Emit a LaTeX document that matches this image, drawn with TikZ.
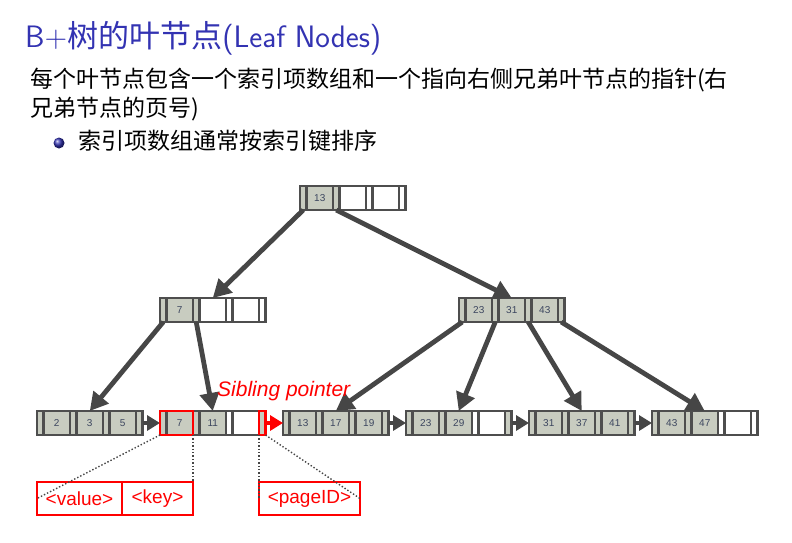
\documentclass[tikz,border=0pt]{standalone}
\usepackage{fontspec}
\usepackage{xcolor}
\usepackage{tikz}
\usetikzlibrary{arrows.meta,positioning}
\newfontfamily\cjk{Noto Sans CJK SC}
\newfontfamily\diagfont{Liberation Sans}
\definecolor{titleblue}{RGB}{51,51,178}
\definecolor{cellgrey}{RGB}{200,204,192}
\definecolor{cellline}{RGB}{78,78,78}
\definecolor{ptrgrey}{RGB}{70,70,70}
\definecolor{numblue}{RGB}{60,70,95}
\definecolor{markred}{RGB}{255,0,0}
\tikzset{
  cell/.style={draw=cellline,line width=2.4pt,outer sep=0pt,inner sep=0pt,
    minimum height=24pt,text=numblue,font=\diagfont\fontsize{10}{10}\selectfont},
  pf/.style={cell,minimum width=6.5pt,fill=cellgrey},
  pe/.style={cell,minimum width=6.5pt,fill=white},
  kf/.style={cell,minimum width=26.5pt,fill=cellgrey},
  ke/.style={cell,minimum width=26.5pt,fill=white},
  treeptr/.style={-{Triangle[length=18pt,width=19pt]},line width=4.8pt,draw=ptrgrey},
  sibptr/.style={-{Triangle[length=13pt,width=15pt]},line width=4.8pt,draw=ptrgrey},
  redframe/.style={draw=markred,line width=2.2pt},
  dotline/.style={dotted,line width=1.4pt,draw=ptrgrey},
  tagbox/.style={draw=markred,line width=2pt,text=markred,inner sep=0pt,outer sep=0pt,
    minimum height=33pt,font=\diagfont\fontsize{19}{19}\selectfont},
  titletext/.style={text=titleblue,inner sep=0pt,font=\sffamily\fontsize{31}{31}\selectfont},
  bodytext/.style={inner sep=0pt,font=\cjk\fontsize{23}{23}\selectfont},
  siblabel/.style={text=markred,inner sep=0pt,font=\diagfont\itshape\fontsize{21}{21}\selectfont}
}
% one tree page: pointer / key cells side by side
\newcommand{\bpnode}[3]{%
  \coordinate (#1-0) at (#2);
  \foreach \cellstyle/\celltext [count=\i, remember=\i as \j (initially 0)] in {#3}
    \node[\cellstyle,right=0pt of #1-\j] (#1-\i) {\celltext};
}

\begin{document}
\begin{tikzpicture}[x=1pt,y=-1pt]
  \useasboundingbox (0,0) rectangle (792,543);
  \node[titletext,anchor=base west] (title) at (25,48) {B+{\cjk 树的叶节点}(Leaf Nodes)};
  \node[bodytext,anchor=base west] (line1) at (30,87) {每个叶节点包含一个索引项数组和一个指向右侧兄弟叶节点的指针(右};
  \node[bodytext,anchor=base west] (line2) at (30,116) {兄弟节点的页号)};
  \node[circle,shading=ball,ball color=titleblue,minimum size=11pt,inner sep=0pt] (bullet) at (59,143) {};
  \node[bodytext,anchor=base west] (item) at (78,149) {索引项数组通常按索引键排序};

  % tree pages
  \bpnode{root}{300,198}{pf/,kf/13,pf/,ke/,pe/,ke/,pe/}
  \bpnode{midl}{160,310}{pf/,kf/7,pf/,ke/,pe/,ke/,pe/}
  \bpnode{midr}{459,310}{pf/,kf/23,pf/,kf/31,pf/,kf/43,pf/}
  \bpnode{leafa}{37,423}{pf/,kf/2,pf/,kf/3,pf/,kf/5,pf/}
  \bpnode{leafb}{160,423}{pf/,kf/7,pf/,kf/11,pe/,ke/,pf/}
  \bpnode{leafc}{283,423}{pf/,kf/13,pf/,kf/17,pf/,kf/19,pf/}
  \bpnode{leafd}{406,423}{pf/,kf/23,pf/,kf/29,pe/,ke/,pf/}
  \bpnode{leafe}{529,423}{pf/,kf/31,pf/,kf/37,pf/,kf/41,pf/}
  \bpnode{leaff}{652,423}{pf/,kf/43,pf/,kf/47,pe/,ke/,pe/}

  \draw[treeptr] (root-1.south) -- (midl-4.north);
  \draw[treeptr] (root-3.south) -- (midr-4.north);
  \draw[treeptr] (midl-1.south) -- (leafa-4.north);
  \draw[treeptr] (midl-3.south) -- (leafb-4.north);
  \draw[treeptr] (midr-1.south) -- (leafc-4.north);
  \draw[treeptr] (midr-3.south) -- (leafd-4.north);
  \draw[treeptr] (midr-5.south) -- (leafe-4.north);
  \draw[treeptr] (midr-7.south) -- (leaff-4.north);

  % sibling pointers
  \draw[sibptr] (leafa-7.east) -- (leafb-1.west);
  \draw[sibptr,draw=markred] (leafb-7.east) -- (leafc-1.west);
  \draw[sibptr] (leafc-7.east) -- (leafd-1.west);
  \draw[sibptr] (leafd-7.east) -- (leafe-1.west);
  \draw[sibptr] (leafe-7.east) -- (leaff-1.west);
  \node[siblabel,anchor=base west] (sib) at (217,396) {Sibling pointer};

  \draw[redframe] (leafb-1.north west) rectangle (leafb-2.south east);
  \draw[redframe] (leafb-7.north west) rectangle (leafb-7.south east);

  \node[tagbox,minimum width=85pt,below right=47pt and 0pt of leafa-1.south west] (valbox) {<value>};
  \node[tagbox,minimum width=71pt,right=0pt of valbox] (keybox) {<key>};
  \node[tagbox,minimum width=101pt,below right=47pt and 0pt of leafb-7.south west] (pagebox) {<pageID>};
  \draw[dotline] (leafb-1.south west) -- (valbox.west);
  \draw[dotline] (leafb-2.south east) -- (keybox.north east);
  \draw[dotline] (leafb-7.south west) -- (pagebox.west);
  \draw[dotline] (leafb-7.south east) -- (pagebox.east);
\end{tikzpicture}
\end{document}
